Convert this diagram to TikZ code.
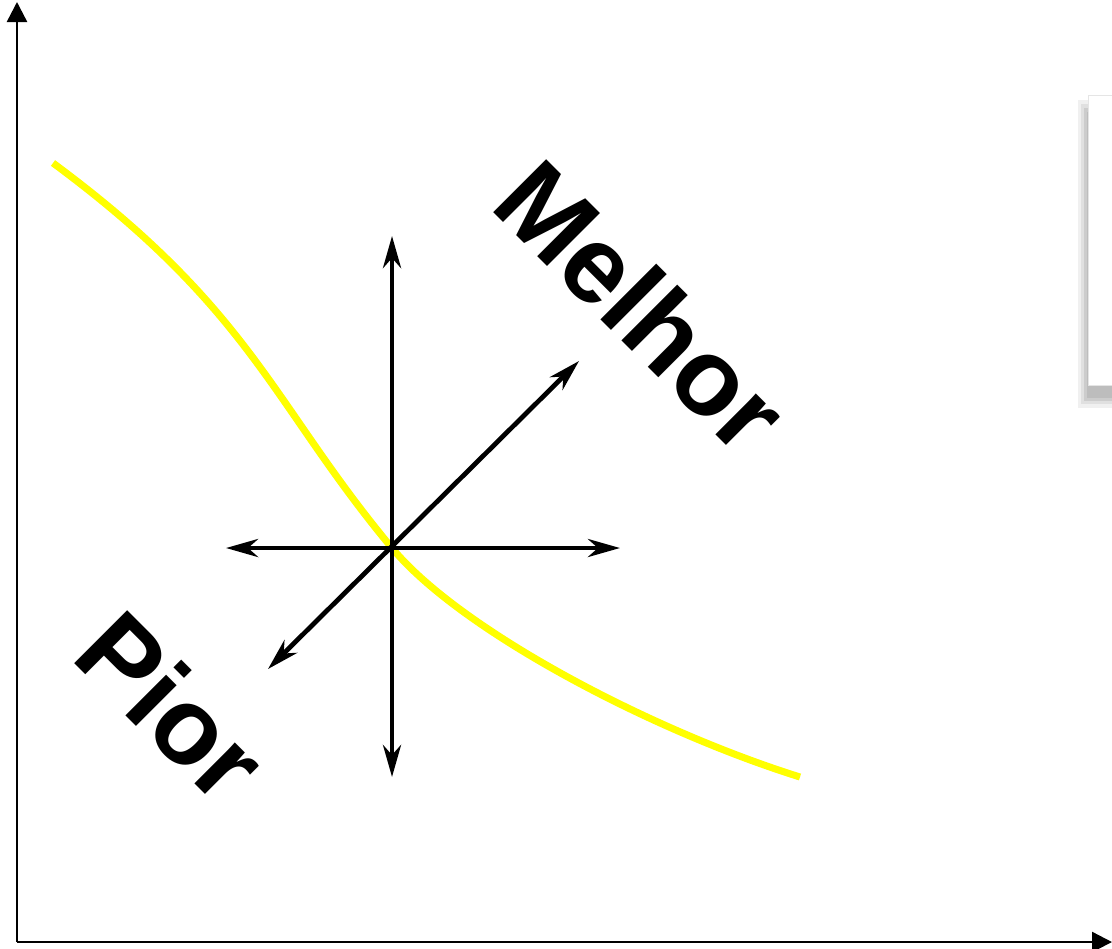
\documentclass[tikz,border=0pt]{standalone}
\usepackage{fontspec}
\setsansfont{Liberation Sans}
\usetikzlibrary{arrows.meta}
\definecolor{cyellow}{HTML}{FFFF00}
\definecolor{cshade}{HTML}{BDBDBD}
\tikzset{
  every picture/.style={font=\sffamily},
  axis/.style={-{Triangle[length=4mm, width=4mm]}, line width=1.4pt},
  dirarrow/.style={{Stealth[length=6.4mm, width=3.6mm, inset=2mm]}-{Stealth[length=6.4mm, width=3.6mm, inset=2mm]}, line width=2.7pt},
  bigword/.style={font=\sffamily\bfseries\fontsize{62}{64}\selectfont, rotate=-45, inner sep=0pt},
  curve/.style={draw=cyellow, line width=4pt},
}
\begin{document}
\begin{tikzpicture}[x=0.02cm, y=-0.02cm]
  \useasboundingbox (0,0) rectangle (1112,948);
  % axes
  \coordinate (o) at (17,942);
  \coordinate (ytip) at (17,2);
  \coordinate (xtip) at (1112,942);
  \draw[axis] (o) -- (ytip);
  \draw[axis] (o) -- (xtip);
  % box at the right edge, with its shadow
  \fill[black!6] (1078,100) rectangle (1120,408);
  \fill[black!12] (1081,104) rectangle (1120,404);
  \fill[black!20] (1084,108) rectangle (1120,401);
  \fill[cshade] (1087,112) rectangle (1120,398);
  \draw[black!10, fill=white] (1088,95) rectangle (1120,385);
  % directions from the point on the curve
  \coordinate (c) at (392,548);
  \coordinate (up) at (392,236);
  \coordinate (down) at (392,777);
  \coordinate (left) at (226,548);
  \coordinate (right) at (620,548);
  \coordinate (ne) at (579,361);
  \coordinate (sw) at (268,669);
  % trade-off curve
  \coordinate (cstart) at (53,163);
  \coordinate (cend) at (800,777);
  \draw[curve] (cstart) .. controls (253,311) and (272,404) .. (c)
    .. controls (460,630) and (650,730) .. (cend);
  \draw[dirarrow] (down) -- (up);
  \draw[dirarrow] (left) -- (right);
  \draw[dirarrow] (sw) -- (ne);
  % labels
  \node[bigword] (better) at (642,306) {Melhor};
  \node[bigword] (worse) at (172,706) {Pior};
\end{tikzpicture}
\end{document}
